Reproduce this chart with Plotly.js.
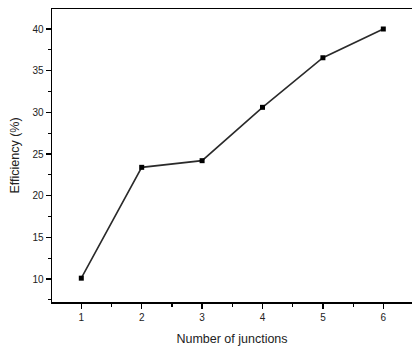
<!DOCTYPE html>
<html>
<head>
<meta charset="utf-8">
<script src="https://cdn.plot.ly/plotly-3.0.1.min.js"></script>
<style>html,body{margin:0;padding:0;background:#fff;}#chart{width:412px;height:348px;}</style>
</head>
<body>
<div id="chart"></div>
<script>
const junctions = [1, 2, 3, 4, 5, 6];
const efficiency = [10.1, 23.4, 24.2, 30.6, 36.55, 40.0];
const xTitle = "Number of junctions";
const yTitle = "Efficiency (%)";

const trace = {
  x: junctions,
  y: efficiency,
  type: 'scatter',
  mode: 'lines+markers',
  line: {color: '#2a2a2a', width: 1.6},
  marker: {symbol: 'square', size: 5, color: '#000'},
  hoverinfo: 'skip'
};

const layout = {
  width: 412, height: 348,
  margin: {l: 52, r: 0, t: 9, b: 46},
  paper_bgcolor: '#fff', plot_bgcolor: '#fff',
  showlegend: false,
  font: {family: 'Liberation Sans, Arial, sans-serif', color: '#222'},
  xaxis: {
    range: [0.515, 6.475],
    tickvals: junctions,
    ticks: 'outside', ticklen: 5, tickwidth: 1.3, tickcolor: '#000',
    minor: {dtick: 0.5, tick0: 0.5, ticks: 'outside', ticklen: 3, tickwidth: 1.2, tickcolor: '#000', showgrid: false},
    showline: true, linecolor: '#000', linewidth: 1.5, mirror: true,
    showgrid: false, zeroline: false,
    tickfont: {size: 10, color: '#222'},
    title: {text: xTitle, font: {size: 12.5, color: '#222'}, standoff: 12}
  },
  yaxis: {
    range: [7.24, 42.4],
    tickvals: [10, 15, 20, 25, 30, 35, 40],
    ticks: 'outside', ticklen: 5, tickwidth: 1.3, tickcolor: '#000',
    minor: {dtick: 2.5, tick0: 0, ticks: 'outside', ticklen: 3, tickwidth: 1.2, tickcolor: '#000', showgrid: false},
    showline: true, linecolor: '#000', linewidth: 1.5, mirror: false,
    showgrid: false, zeroline: false,
    tickfont: {size: 10, color: '#222'},
    title: {text: yTitle, font: {size: 12.5, color: '#222'}, standoff: 10}
  }
};

Plotly.newPlot('chart', [trace], layout, {staticPlot: true, displayModeBar: false});
</script>
</body>
</html>
